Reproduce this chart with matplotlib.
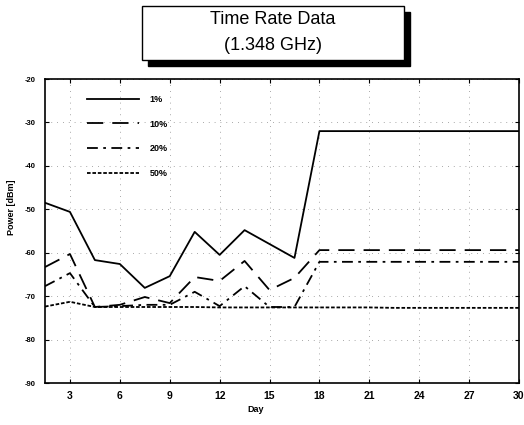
import matplotlib
matplotlib.use("Agg")
import matplotlib.pyplot as plt
from matplotlib.patches import Rectangle

plt.rcParams['font.family'] = ['Liberation Sans', 'DejaVu Sans']

# days sampled every 1.5 days
days = [1.5, 3, 4.5, 6, 7.5, 9, 10.5, 12, 13.5, 15, 16.5, 18,
        19.5, 21, 22.5, 24, 25.5, 27, 28.5, 30]

p1 = [-48.5, -50.6, -61.7, -62.6, -68.1, -65.4, -55.2, -60.5, -54.8, -58.0,
      -61.2, -32.0, -32.0, -32.0, -32.0, -32.0, -32.0, -32.0, -32.0, -32.0]
p10 = [-63.3, -60.3, -72.5, -72.0, -70.2, -71.6, -65.6, -66.5, -61.9, -68.6,
       -65.8, -59.4, -59.4, -59.4, -59.4, -59.4, -59.4, -59.4, -59.4, -59.4]
p20 = [-67.7, -64.7, -72.5, -72.3, -72.0, -72.0, -69.0, -72.3, -67.7, -72.5,
       -72.5, -62.1, -62.1, -62.1, -62.1, -62.1, -62.1, -62.1, -62.1, -62.1]
p50 = [-72.4, -71.3, -72.5, -72.5, -72.5, -72.5, -72.5, -72.6, -72.6, -72.6,
       -72.6, -72.6, -72.6, -72.6, -72.7, -72.7, -72.7, -72.7, -72.7, -72.7]

labels = ["1%", "10%", "20%", "50%"]
xticks = [3, 6, 9, 12, 15, 18, 21, 24, 27, 30]
yticks = [-20, -30, -40, -50, -60, -70, -80, -90]

fig = plt.figure(figsize=(5.24, 4.25), dpi=100)
ax = fig.add_axes([45/524, 1 - 383/425, 474/524, 304/425])

lw = 1.3
ax.plot(days, p1, color='black', lw=lw, label=labels[0])
ax.plot(days, p10, color='black', lw=lw, dashes=(9, 5), label=labels[1])
ax.plot(days, p20, color='black', lw=lw, dashes=(6, 3, 1.5, 3), label=labels[2])
ax.plot(days, p50, color='black', lw=lw, dashes=(2, 1), label=labels[3])

ax.set_xlim(1.5, 30)
ax.set_ylim(-90, -20)
ax.set_xticks(xticks)
ax.set_yticks(yticks)
ax.set_yticklabels([str(v) for v in yticks], fontsize=5.5, fontweight='bold')
ax.set_xticklabels([str(v) for v in xticks], fontsize=7.5, fontweight='bold')
ax.tick_params(axis='both', direction='in', length=3, width=0.8,
               top=True, right=True)
ax.tick_params(axis='x', pad=6)
ax.tick_params(axis='y', pad=7)
ax.grid(True, color='0.55', lw=0.6, linestyle=(0, (1, 6)))
for sp in ax.spines.values():
    sp.set_linewidth(1.2)

leg = ax.legend(loc='upper left', bbox_to_anchor=(0.081, 0.96), frameon=False,
                handlelength=5.8, handletextpad=1.1, labelspacing=1.75,
                borderaxespad=0, prop={'size': 6.5, 'weight': 'bold'})

fig.text(12/524, 1 - 207/425, "Power [dBm]", rotation=90, ha='center',
         va='center', fontsize=6.5, fontweight='bold')
fig.text(256/524, 1 - 410/425, "Day", ha='center', va='center',
         fontsize=6.5, fontweight='bold')

# title box with drop shadow
bx, by, bw, bh = 142/524, 1 - 60/425, 262/524, 54/425
fig.patches.append(Rectangle((bx + 6/524, by - 6/425), bw, bh, facecolor='black',
                             edgecolor='black', transform=fig.transFigure, zorder=1))
fig.patches.append(Rectangle((bx, by), bw, bh, facecolor='white', edgecolor='black',
                             lw=1.0, transform=fig.transFigure, zorder=2))
fig.text(273/524, 1 - 20/425, "Time Rate Data", ha='center', va='center',
         fontsize=13, zorder=3)
fig.text(273/524, 1 - 45/425, "(1.348 GHz)", ha='center', va='center',
         fontsize=13, zorder=3)

fig.savefig("out.png", dpi=100)
